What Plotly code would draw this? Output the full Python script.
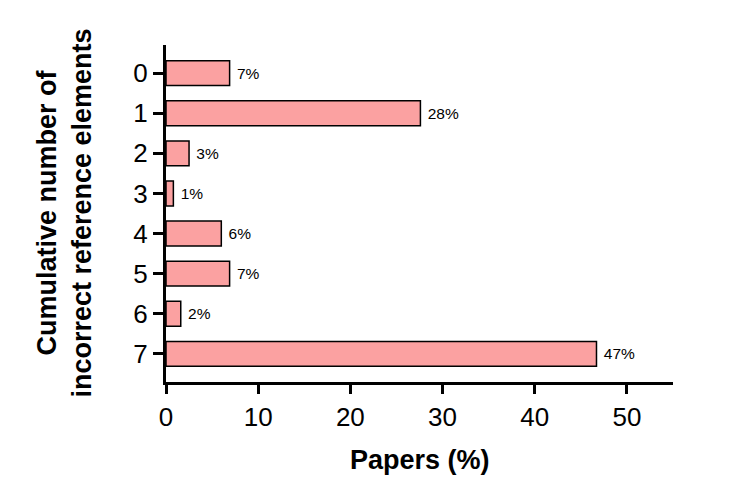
import plotly.graph_objects as go

categories = ["0", "1", "2", "3", "4", "5", "6", "7"]
papers_pct = [6.9, 27.6, 2.5, 0.8, 6.0, 6.9, 1.6, 46.7]
bar_labels = ["7%", "28%", "3%", "1%", "6%", "7%", "2%", "47%"]
x_ticks = [0, 10, 20, 30, 40, 50]

fig = go.Figure(go.Bar(
    x=papers_pct,
    y=categories,
    orientation="h",
    width=0.62,
    marker=dict(color="#FBA1A1", line=dict(color="black", width=1.5)),
    text=bar_labels,
    texttemplate=" %{text}",
    textposition="outside",
    constraintext="none",
    textfont=dict(size=15.5, color="black"),
    cliponaxis=False,
))

fig.update_layout(
    width=750, height=497,
    margin=dict(l=158, r=85, t=37, b=123),
    plot_bgcolor="white", paper_bgcolor="white",
    font=dict(family="Liberation Sans, Arial, sans-serif", color="black"),
    showlegend=False,
    xaxis=dict(
        range=[0, 55], tickvals=x_ticks,
        showline=True, linecolor="black", linewidth=3,
        ticks="outside", ticklen=9, tickwidth=3, tickcolor="black",
        tickfont=dict(size=26), ticklabelstandoff=1,
        showgrid=False, zeroline=False,
    ),
    yaxis=dict(
        type="category", range=[7.7, -0.7],
        showline=True, linecolor="black", linewidth=3,
        ticks="outside", ticklen=10, tickwidth=3, tickcolor="black",
        tickfont=dict(size=26),
        showgrid=False, zeroline=False,
    ),
    annotations=[
        dict(text="<b>Papers (%)</b>", xref="paper", yref="paper",
             x=0.5, y=-0.231, xanchor="center", yanchor="middle",
             showarrow=False, font=dict(size=27)),
        dict(text="<b>Cumulative number of<br>incorrect reference elements</b>",
             xref="paper", yref="paper", x=-0.201, y=0.5,
             xanchor="center", yanchor="middle", textangle=-90,
             showarrow=False, font=dict(size=27)),
    ],
)

fig.write_html("out.html")
